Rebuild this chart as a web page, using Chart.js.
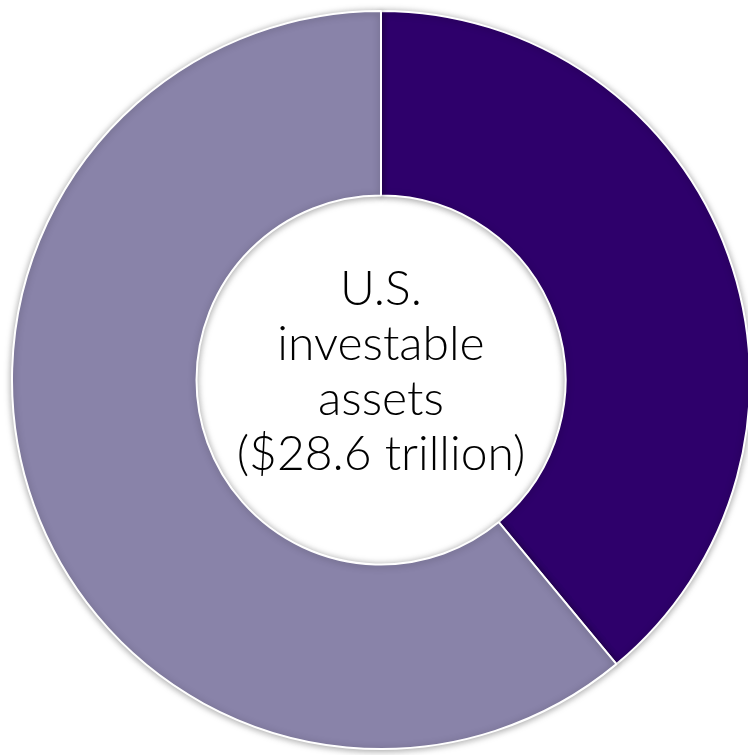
<!DOCTYPE html>
<html>
<head>
    <meta charset="utf-8">
    <title>U.S. investable assets</title>
    <script src="https://cdn.jsdelivr.net/npm/chart.js@4.4.1/dist/chart.umd.min.js"></script>
    <style>
        html, body {
            margin: 0;
            padding: 0;
            background: #fff;
            overflow: hidden;
        }
        /* wider than the window so the ring can run off the right edge */
        .wrap {
            position: relative;
            width: 752px;
            height: 755px;
        }
    </style>
</head>
<body>
    <div class="wrap">
        <canvas id="donut"></canvas>
    </div>
    <script>
        // data, $ trillion
        var labels = ['Segment A', 'Segment B'];
        var values = [11.15, 17.45];
        var colors = ['#2E006B', '#8983A9'];
        var centerLines = ['U.S.', 'investable', 'assets', '($28.6 trillion)'];

        // soft shadow under the ring
        var ringShadow = {
            id: 'ringShadow',
            beforeDatasetDraw: function (chart) {
                var ctx = chart.ctx;
                ctx.save();
                ctx.shadowColor = 'rgba(0,0,0,0.35)';
                ctx.shadowBlur = 7;
                ctx.shadowOffsetX = 0;
                ctx.shadowOffsetY = 1;
            },
            afterDatasetDraw: function (chart) {
                chart.ctx.restore();
            }
        };

        // text in the hole
        var centerText = {
            id: 'centerText',
            afterDraw: function (chart) {
                var ctx = chart.ctx;
                var arc = chart.getDatasetMeta(0).data[0];
                var cx = arc.x, cy = arc.y;
                var lineH = 55;
                ctx.save();
                ctx.font = '300 48px Lato, "Open Sans", sans-serif';
                ctx.fillStyle = '#000';
                ctx.textAlign = 'center';
                ctx.textBaseline = 'alphabetic';
                for (var i = 0; i < centerLines.length; i++) {
                    ctx.fillText(centerLines[i], cx, cy + (i - 1.5) * lineH + 7.5);
                }
                ctx.restore();
            }
        };

        new Chart(document.getElementById('donut'), {
            type: 'doughnut',
            data: {
                labels: labels,
                datasets: [{
                    data: values,
                    backgroundColor: colors,
                    borderColor: '#ffffff',
                    borderWidth: 2
                }]
            },
            options: {
                responsive: true,
                maintainAspectRatio: false,
                animation: false,
                cutout: '50%',
                layout: {
                    padding: { left: 11, right: 1, top: 10, bottom: 5 }
                },
                plugins: {
                    legend: { display: false },
                    tooltip: { enabled: false }
                }
            },
            plugins: [ringShadow, centerText]
        });
    </script>
</body>
</html>
